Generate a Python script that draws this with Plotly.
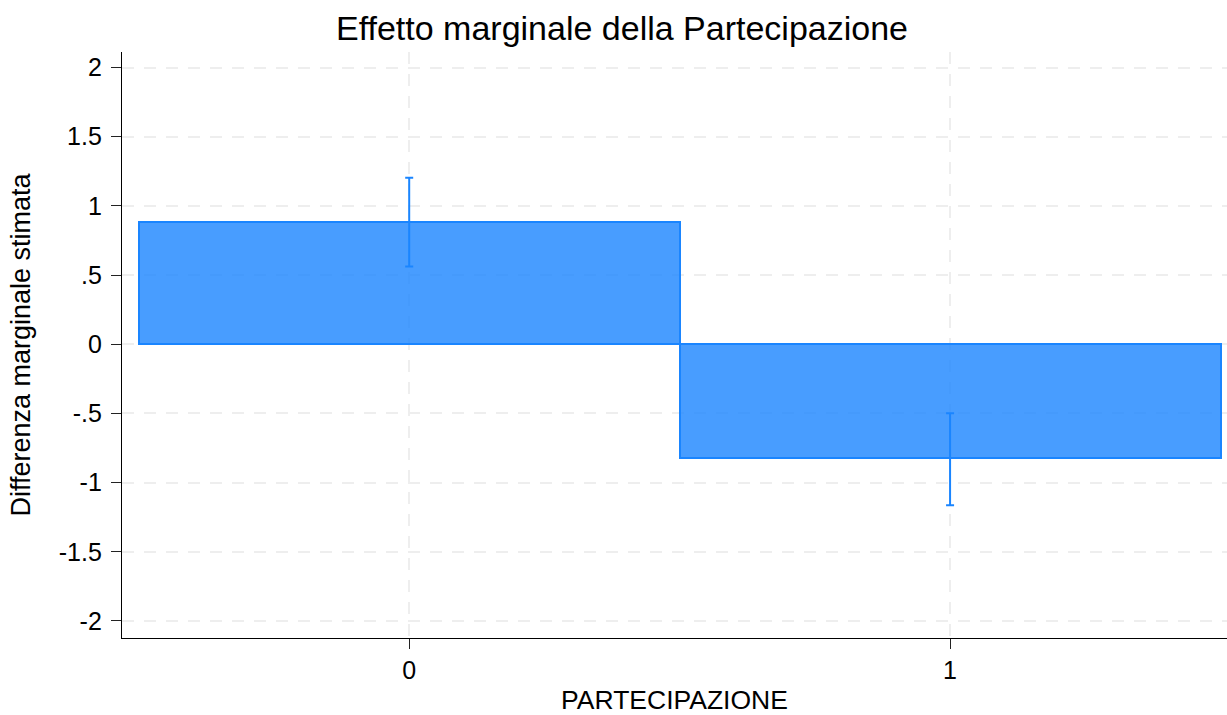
import plotly.graph_objects as go

# Data
categories = [0, 1]
effects = [0.880, -0.823]
ci_upper = [1.204, -0.499]
ci_lower = [0.561, -1.164]
ytick_vals = [2, 1.5, 1, 0.5, 0, -0.5, -1, -1.5, -2]
ytick_text = ["2", "1.5", "1", ".5", "0", "-.5", "-1", "-1.5", "-2"]
xtick_text = ["0", "1"]

err_plus = [u - v for u, v in zip(ci_upper, effects)]
err_minus = [v - l for v, l in zip(effects, ci_lower)]

LINE = "#1a85ff"
FILL = "rgba(26,133,255,0.8)"
FONT = "Liberation Sans, Arial, sans-serif"

fig = go.Figure()
fig.add_trace(go.Bar(
    x=categories, y=effects, width=1.0,
    marker=dict(color=FILL, line=dict(color=LINE, width=2)),
    error_y=dict(type="data", symmetric=False, array=err_plus, arrayminus=err_minus,
                 color=LINE, thickness=2, width=4),
    showlegend=False,
))

fig.update_layout(
    width=1227, height=715,
    margin=dict(l=122, r=0, t=52, b=73, pad=0),
    paper_bgcolor="white", plot_bgcolor="white",
    font=dict(family=FONT, color="black", size=25),
    title=dict(text="Effetto marginale della Partecipazione", x=622 / 1227, xanchor="center",
               y=1 - 28 / 715, yanchor="middle", xref="container", yref="container",
               font=dict(size=34, family=FONT, color="black")),
    bargap=0,
)
fig.update_xaxes(
    range=[-0.531, 1.512], tickvals=categories, ticktext=xtick_text,
    showline=True, linecolor="black", linewidth=1.3,
    ticks="outside", ticklen=10, tickwidth=1.3, tickcolor="#222",
    showgrid=True, gridcolor="#eeeeee", gridwidth=2, griddash="12px,10px",
    zeroline=False,
    title=dict(text="PARTECIPAZIONE", font=dict(size=26.5, family=FONT), standoff=12),
    tickfont=dict(size=25),
)
fig.update_yaxes(
    range=[-2.123, 2.112], tickvals=ytick_vals, ticktext=ytick_text,
    showline=True, linecolor="black", linewidth=1.3,
    ticks="outside", ticklen=10, tickwidth=1.3, tickcolor="#222",
    ticklabelstandoff=4,
    showgrid=True, gridcolor="#eeeeee", gridwidth=2, griddash="12px,10px",
    zeroline=False,
    title=dict(text="Differenza marginale stimata", font=dict(size=27, family=FONT), standoff=20),
    tickfont=dict(size=25),
)

fig.write_html("out.html", config={"displayModeBar": False},
               post_script="document.body.style.margin='0';")
